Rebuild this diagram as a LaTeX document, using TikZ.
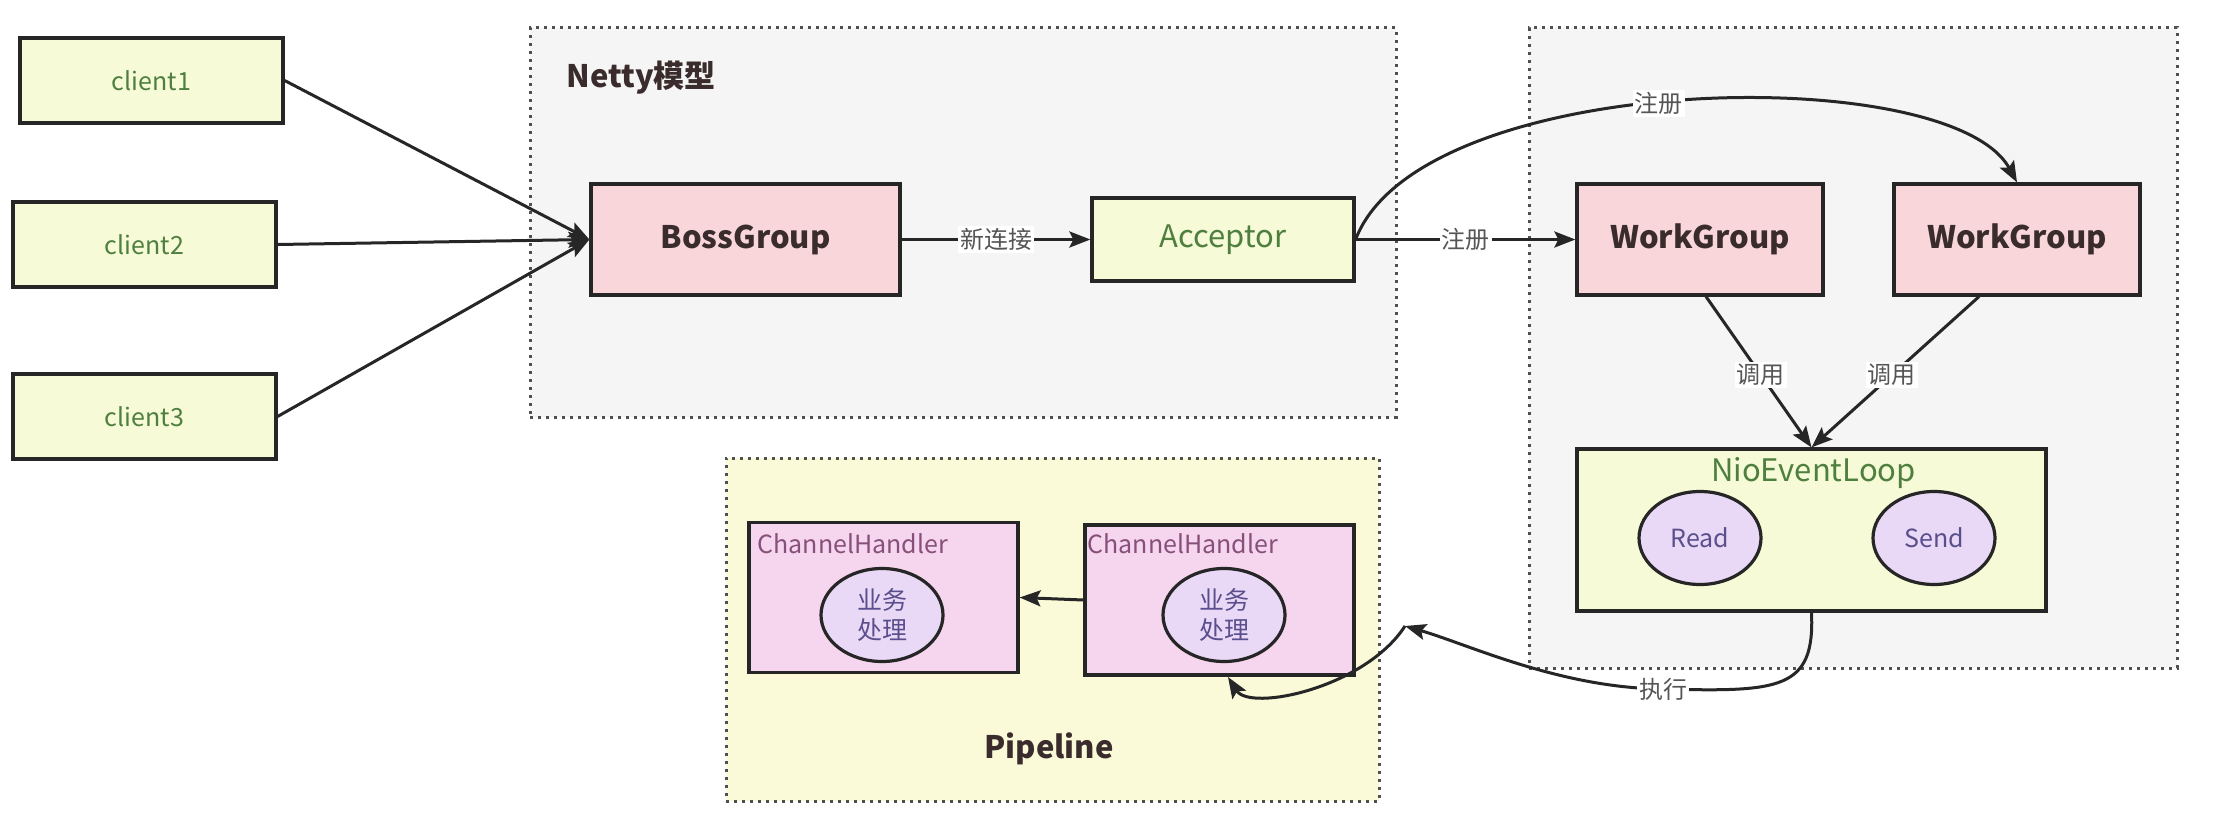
\documentclass[tikz,border=0pt]{standalone}
\usepackage{fontspec}
\setmainfont{Noto Sans CJK SC}
\usetikzlibrary{arrows.meta,calc,shapes.geometric}

\definecolor{linec}{HTML}{262626}
\definecolor{framec}{HTML}{505050}
\definecolor{grayf}{HTML}{F5F5F5}
\definecolor{yellowf}{HTML}{F6FAD6}
\definecolor{pipef}{HTML}{FAFAD9}
\definecolor{pinkf}{HTML}{F8D6DA}
\definecolor{handlerf}{HTML}{F6D5EF}
\definecolor{lavf}{HTML}{E9D9F6}
\definecolor{greent}{HTML}{4F7F3F}
\definecolor{boldt}{HTML}{3A2C2C}
\definecolor{handlert}{HTML}{86507A}
\definecolor{lavt}{HTML}{5A4E8C}
\definecolor{lblt}{HTML}{555555}

\begin{document}
\begin{tikzpicture}[x=1pt,y=-1pt,
  frame/.style={draw=framec, line width=3pt, dash pattern=on 3pt off 5pt, inner sep=0pt},
  box/.style={draw=linec, line width=3.2pt, inner sep=0pt},
  client/.style={box, fill=yellowf, text=greent, minimum width=263pt, minimum height=85pt,
    font=\fontsize{25}{30}\selectfont},
  group/.style={box, fill=pinkf, text=boldt, minimum width=246pt, minimum height=111pt,
    font=\bfseries\fontsize{31}{36}\selectfont},
  handler/.style={box, fill=handlerf, minimum width=269pt, minimum height=150pt},
  oval/.style={ellipse, draw=linec, line width=3.2pt, fill=lavf, text=lavt, inner sep=0pt,
    minimum width=122pt, minimum height=93pt, font=\fontsize{25}{30}\selectfont, align=center},
  conn/.style={draw=linec, line width=3pt, -{Stealth[length=21pt,width=16pt,inset=4pt]}},
  lbl/.style={fill=white, text=lblt, inner sep=2pt, font=\fontsize{24}{28}\selectfont},
  title/.style={text=boldt, font=\bfseries\fontsize{31}{36}\selectfont}
]
\useasboundingbox[fill=white] (0,0) rectangle (2216,832);

% dotted containers
\node[frame, fill=grayf, minimum width=866pt, minimum height=389pt] (netty) at (963,222.5) {};
\node[frame, fill=grayf, minimum width=648pt, minimum height=640pt] (workers) at (1853,348) {};
\node[frame, fill=pipef, minimum width=653pt, minimum height=343pt] (pipe) at (1052.5,629.5) {};

\node[title, anchor=west] (nettyt) at (563,78) {Netty模型};
\node[title] (pipet) at (1049,749) {Pipeline};

% clients
\node[client] (c1) at (151.5,80.5) {client1};
\node[client] (c2) at (144.5,244.5) {client2};
\node[client] (c3) at (144.5,416.5) {client3};

% boss side
\node[group, minimum width=309pt] (boss) at (745.5,239.5) {BossGroup};
\node[box, fill=yellowf, text=greent, minimum width=262pt, minimum height=83pt,
  font=\fontsize{31}{36}\selectfont] (acc) at (1223,239.5) {Acceptor};

% worker side
\node[group] (wg1) at (1700,239.5) {WorkGroup};
\node[group] (wg2) at (2017,239.5) {WorkGroup};
\node[box, fill=yellowf, minimum width=469pt, minimum height=162pt] (nel) at (1811.5,530) {};
\node[text=greent, font=\fontsize{31}{36}\selectfont, anchor=north] (nelt) at ($(nel.north)+(2,7)$) {NioEventLoop};
\node[oval] (read) at (1700,538) {Read};
\node[oval] (send) at (1934,538) {Send};

% pipeline handlers
\node[handler] (ch1) at (883.5,597.5) {};
\node[handler] (ch2) at (1219.5,600) {};
\node[text=handlert, font=\fontsize{25}{30}\selectfont, anchor=north west, inner sep=0pt]
  (ch1t) at ($(ch1.north west)+(10,12)$) {ChannelHandler};
\node[text=handlert, font=\fontsize{25}{30}\selectfont, anchor=north west, inner sep=0pt]
  (ch2t) at ($(ch2.north west)+(4,10)$) {ChannelHandler};
\node[oval] (biz1) at (882,615) {业务\\处理};
\node[oval] (biz2) at (1224,615) {业务\\处理};

% connectors
\draw[conn] (c1.east) -- (boss.west);
\draw[conn] (c2.east) -- (boss.west);
\draw[conn] (c3.east) -- (boss.west);
\draw[conn] (boss.east) -- node[lbl] {新连接} (acc.west);
\draw[conn] (acc.east) -- node[lbl] {注册} (wg1.west);
\draw[conn] (acc.east) .. controls (1420,70) and (1950,60) .. node[lbl, pos=0.47] {注册} (wg2.north);
\draw[conn] ([xshift=6pt]wg1.south) -- node[lbl, pos=0.52] {调用} (nel.north);
\draw[conn] ([xshift=-38pt]wg2.south) -- node[lbl, pos=0.52] {调用} (nel.north);
\draw[conn] (ch2.west) -- (ch1.east);

\coordinate (run) at (1663,689);
\coordinate (enter) at (1405,626);
\coordinate (into) at (1228,677);
\draw[conn] (nel.south) .. controls (1815,690) and (1780,692) .. (run)
  .. controls (1560,688) and (1470,645) .. (enter);
\node[lbl] (runt) at (run) {执行};
\draw[conn] (enter) .. controls (1365,688) and (1250,712) .. (into);
\end{tikzpicture}
\end{document}
